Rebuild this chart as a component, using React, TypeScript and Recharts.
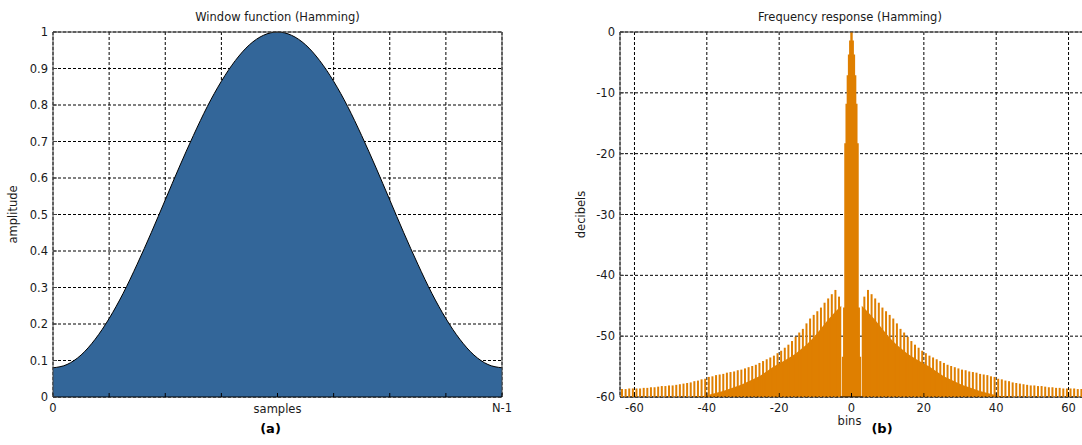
import {
  Area,
  AreaChart,
  Bar,
  CartesianGrid,
  ComposedChart,
  ReferenceLine,
  XAxis,
  YAxis,
} from "recharts";

// (a) Hamming window at N/32 steps
const WINDOW_AMPLITUDE = [
  0.08, 0.089, 0.115, 0.158, 0.215, 0.284, 0.364, 0.45, 0.54, 0.63, 0.716,
  0.796, 0.865, 0.922, 0.965, 0.991, 1, 0.991, 0.965, 0.922, 0.865, 0.796,
  0.716, 0.63, 0.54, 0.45, 0.364, 0.284, 0.215, 0.158, 0.115, 0.089, 0.08,
];
const SAMPLE_TICKS = [0, 4, 8, 12, 16, 20, 24, 28, 32];
const AMPLITUDE_TICKS = [0, 0.1, 0.2, 0.3, 0.4, 0.5, 0.6, 0.7, 0.8, 0.9, 1];

// (b) frequency response, one side (mirrored for negative bins)
const MAIN_LOBE_BINS = [0.17, 0.5, 0.83, 1.17, 1.5, 1.83, 2.17, 2.5, 2.83];
const MAIN_LOBE_DB = [0, -1.4, -3.7, -7.1, -11.8, -18.3, -45.3, -53.4, -60];
const SIDELOBE_FIRST_BIN = 3.5;
const SIDELOBE_PEAK_DB = [
  -43.5, -42.4, -43.1, -43.8, -44.5, -45.3, -45.9, -46.5, -47.1, -47.9, -48.8,
  -49.4, -50.1, -50.8, -51.4, -51.9, -52.4, -52.8, -53.2, -53.5, -53.8, -54.1,
  -54.4, -54.7, -54.9, -55.1, -55.3, -55.5, -55.6, -55.8, -55.9, -56.0, -56.2,
  -56.3, -56.4, -56.6, -56.7, -57.0, -57.1, -57.3, -57.4, -57.6, -57.7, -57.8,
  -57.9, -58.0, -58.1, -58.1, -58.2, -58.2, -58.3, -58.4, -58.4, -58.5, -58.5,
  -58.6, -58.6, -58.6, -58.6, -58.7, -58.7,
];
const FLOOR_BINS = [2.83, 4.5, 6.5, 8.5, 10.5, 12.5, 15.5, 18.5, 21.5, 25.5, 30.5, 35.5, 40.5, 44.5];
const FLOOR_DB = [-45, -46, -47.3, -48.8, -50.2, -51.4, -52.9, -54.0, -55.0, -56.6, -58.0, -59.0, -59.8, -60];
const BIN_TICKS = [-60, -40, -20, 0, 20, 40, 60];
const DB_TICKS = [-60, -50, -40, -30, -20, -10, 0];

const BLUE = "#336699";
const ORANGE = "#df7f00";
const FONT = "DejaVu Sans";
const TICK = { fontSize: 11.5, fill: "#1a1a1a" };
const RESPONSE_MARGIN = { top: 32, right: 17, bottom: 28, left: 20 };

const windowData = WINDOW_AMPLITUDE.map((amp, n) => ({ n, amp }));

type Row = { bin: number; lobe?: number; floorL?: number; floorR?: number };

// main lobe + solid floor between the side lobes
const buildEnvelope = () => {
  const rows = new Map<number, Row>();
  const row = (bin: number) => {
    const key = Math.round(bin * 100);
    if (!rows.has(key)) rows.set(key, { bin });
    return rows.get(key)!;
  };
  for (const side of [-1, 1]) {
    MAIN_LOBE_BINS.forEach((b, i) => {
      row(side * b).lobe = MAIN_LOBE_DB[i];
    });
    FLOOR_BINS.forEach((b, i) => {
      const r = row(side * b);
      if (side < 0) r.floorL = FLOOR_DB[i];
      else r.floorR = FLOOR_DB[i];
    });
  }
  return [...rows.values()].sort((a, b) => a.bin - b.bin);
};

// one thin bar per side lobe peak
const buildPeaks = () =>
  [-1, 1]
    .flatMap((side) =>
      SIDELOBE_PEAK_DB.map((db, i) => ({
        bin: side * (SIDELOBE_FIRST_BIN + i),
        level: [-60, db],
      })),
    )
    .sort((a, b) => a.bin - b.bin);

const envelopeData = buildEnvelope();
const peakData = buildPeaks();

const WindowChart = () => (
  <div style={{ position: "absolute", left: 0, top: 0 }}>
    <AreaChart
      width={540}
      height={445}
      data={windowData}
      margin={{ top: 32, right: 38, bottom: 28, left: 13 }}
    >
      <CartesianGrid stroke="#000" strokeDasharray="3 2" />
      <XAxis
        dataKey="n"
        type="number"
        domain={[0, 32]}
        ticks={SAMPLE_TICKS}
        interval={0}
        tickFormatter={(v) => (v === 0 ? "0" : v === 32 ? "N-1" : "")}
        tick={TICK}
        tickSize={-4}
        tickMargin={11}
        height={20}
        stroke="#000"
      />
      <YAxis
        type="number"
        domain={[0, 1]}
        ticks={AMPLITUDE_TICKS}
        interval={0}
        tick={TICK}
        tickSize={-4}
        tickMargin={9}
        width={40}
        stroke="#404040"
      />
      <Area
        type="monotone"
        dataKey="amp"
        fill={BLUE}
        fillOpacity={1}
        stroke="#000"
        strokeWidth={1}
        dot={false}
        activeDot={false}
        isAnimationActive={false}
      />
      <ReferenceLine y={1} stroke="#404040" />
      <ReferenceLine x={32} stroke="#404040" />
    </AreaChart>
  </div>
);

const ResponseChart = () => (
  <>
    <div style={{ position: "absolute", left: 560, top: 0 }}>
      <ComposedChart width={540} height={445} data={envelopeData} margin={RESPONSE_MARGIN}>
        <CartesianGrid stroke="#000" strokeDasharray="3 2" />
        <XAxis
          dataKey="bin"
          type="number"
          domain={[-64, 64]}
          ticks={BIN_TICKS}
          interval={0}
          tick={TICK}
          tickSize={-4}
          tickMargin={11}
          height={20}
          stroke="#000"
          allowDataOverflow
        />
        <YAxis
          type="number"
          domain={[-60, 0]}
          ticks={DB_TICKS}
          interval={0}
          tick={TICK}
          tickSize={-4}
          tickMargin={9}
          width={40}
          stroke="#404040"
          allowDataOverflow
        />
        {["floorL", "floorR"].map((key) => (
          <Area
            key={key}
            type="linear"
            dataKey={key}
            baseValue="dataMin"
            connectNulls
            fill={ORANGE}
            fillOpacity={1}
            stroke="none"
            dot={false}
            activeDot={false}
            isAnimationActive={false}
          />
        ))}
        <Area
          type="step"
          dataKey="lobe"
          baseValue="dataMin"
          connectNulls
          fill={ORANGE}
          fillOpacity={1}
          stroke="none"
          dot={false}
          activeDot={false}
          isAnimationActive={false}
        />
        <ReferenceLine y={0} stroke="#404040" />
      </ComposedChart>
    </div>
    {/* side lobe peaks drawn on an identical overlay so the bars get a 1-bin band */}
    <div style={{ position: "absolute", left: 560, top: 0 }}>
      <ComposedChart width={540} height={445} data={peakData} margin={RESPONSE_MARGIN}>
        <XAxis
          dataKey="bin"
          type="number"
          domain={[-64, 64]}
          ticks={BIN_TICKS}
          tick={false}
          axisLine={false}
          tickLine={false}
          height={20}
          allowDataOverflow
        />
        <YAxis
          type="number"
          domain={[-60, 0]}
          ticks={DB_TICKS}
          tick={false}
          axisLine={false}
          tickLine={false}
          width={40}
          allowDataOverflow
        />
        <Bar dataKey="level" fill={ORANGE} barSize={2} isAnimationActive={false} />
      </ComposedChart>
    </div>
  </>
);

export default function App() {
  return (
    <div
      style={{
        position: "absolute",
        left: 0,
        top: 0,
        width: 1082,
        height: 445,
        overflow: "hidden",
        background: "#fff",
        fontFamily: FONT,
      }}
    >
      <WindowChart />
      <ResponseChart />
      <svg
        width={1082}
        height={445}
        style={{ position: "absolute", left: 0, top: 0, pointerEvents: "none" }}
        fontFamily={FONT}
        fill="#1a1a1a"
      >
        <text x={277.5} y={21} fontSize={11.5} textAnchor="middle">
          Window function (Hamming)
        </text>
        <text x={850} y={21} fontSize={11.5} textAnchor="middle">
          Frequency response (Hamming)
        </text>
        <text x={17} y={214.5} fontSize={11.5} textAnchor="middle" transform="rotate(-90 17 214.5)">
          amplitude
        </text>
        <text x={585} y={214.5} fontSize={11.5} textAnchor="middle" transform="rotate(-90 585 214.5)">
          decibels
        </text>
        <text x={277.5} y={412.5} fontSize={11.5} textAnchor="middle">
          samples
        </text>
        <text x={849.5} y={424.5} fontSize={11.5} textAnchor="middle">
          bins
        </text>
        <text x={270.5} y={433} fontSize={13} fontWeight="bold" textAnchor="middle" fill="#000">
          (a)
        </text>
        <text x={882} y={433} fontSize={13} fontWeight="bold" textAnchor="middle" fill="#000">
          (b)
        </text>
      </svg>
    </div>
  );
}
